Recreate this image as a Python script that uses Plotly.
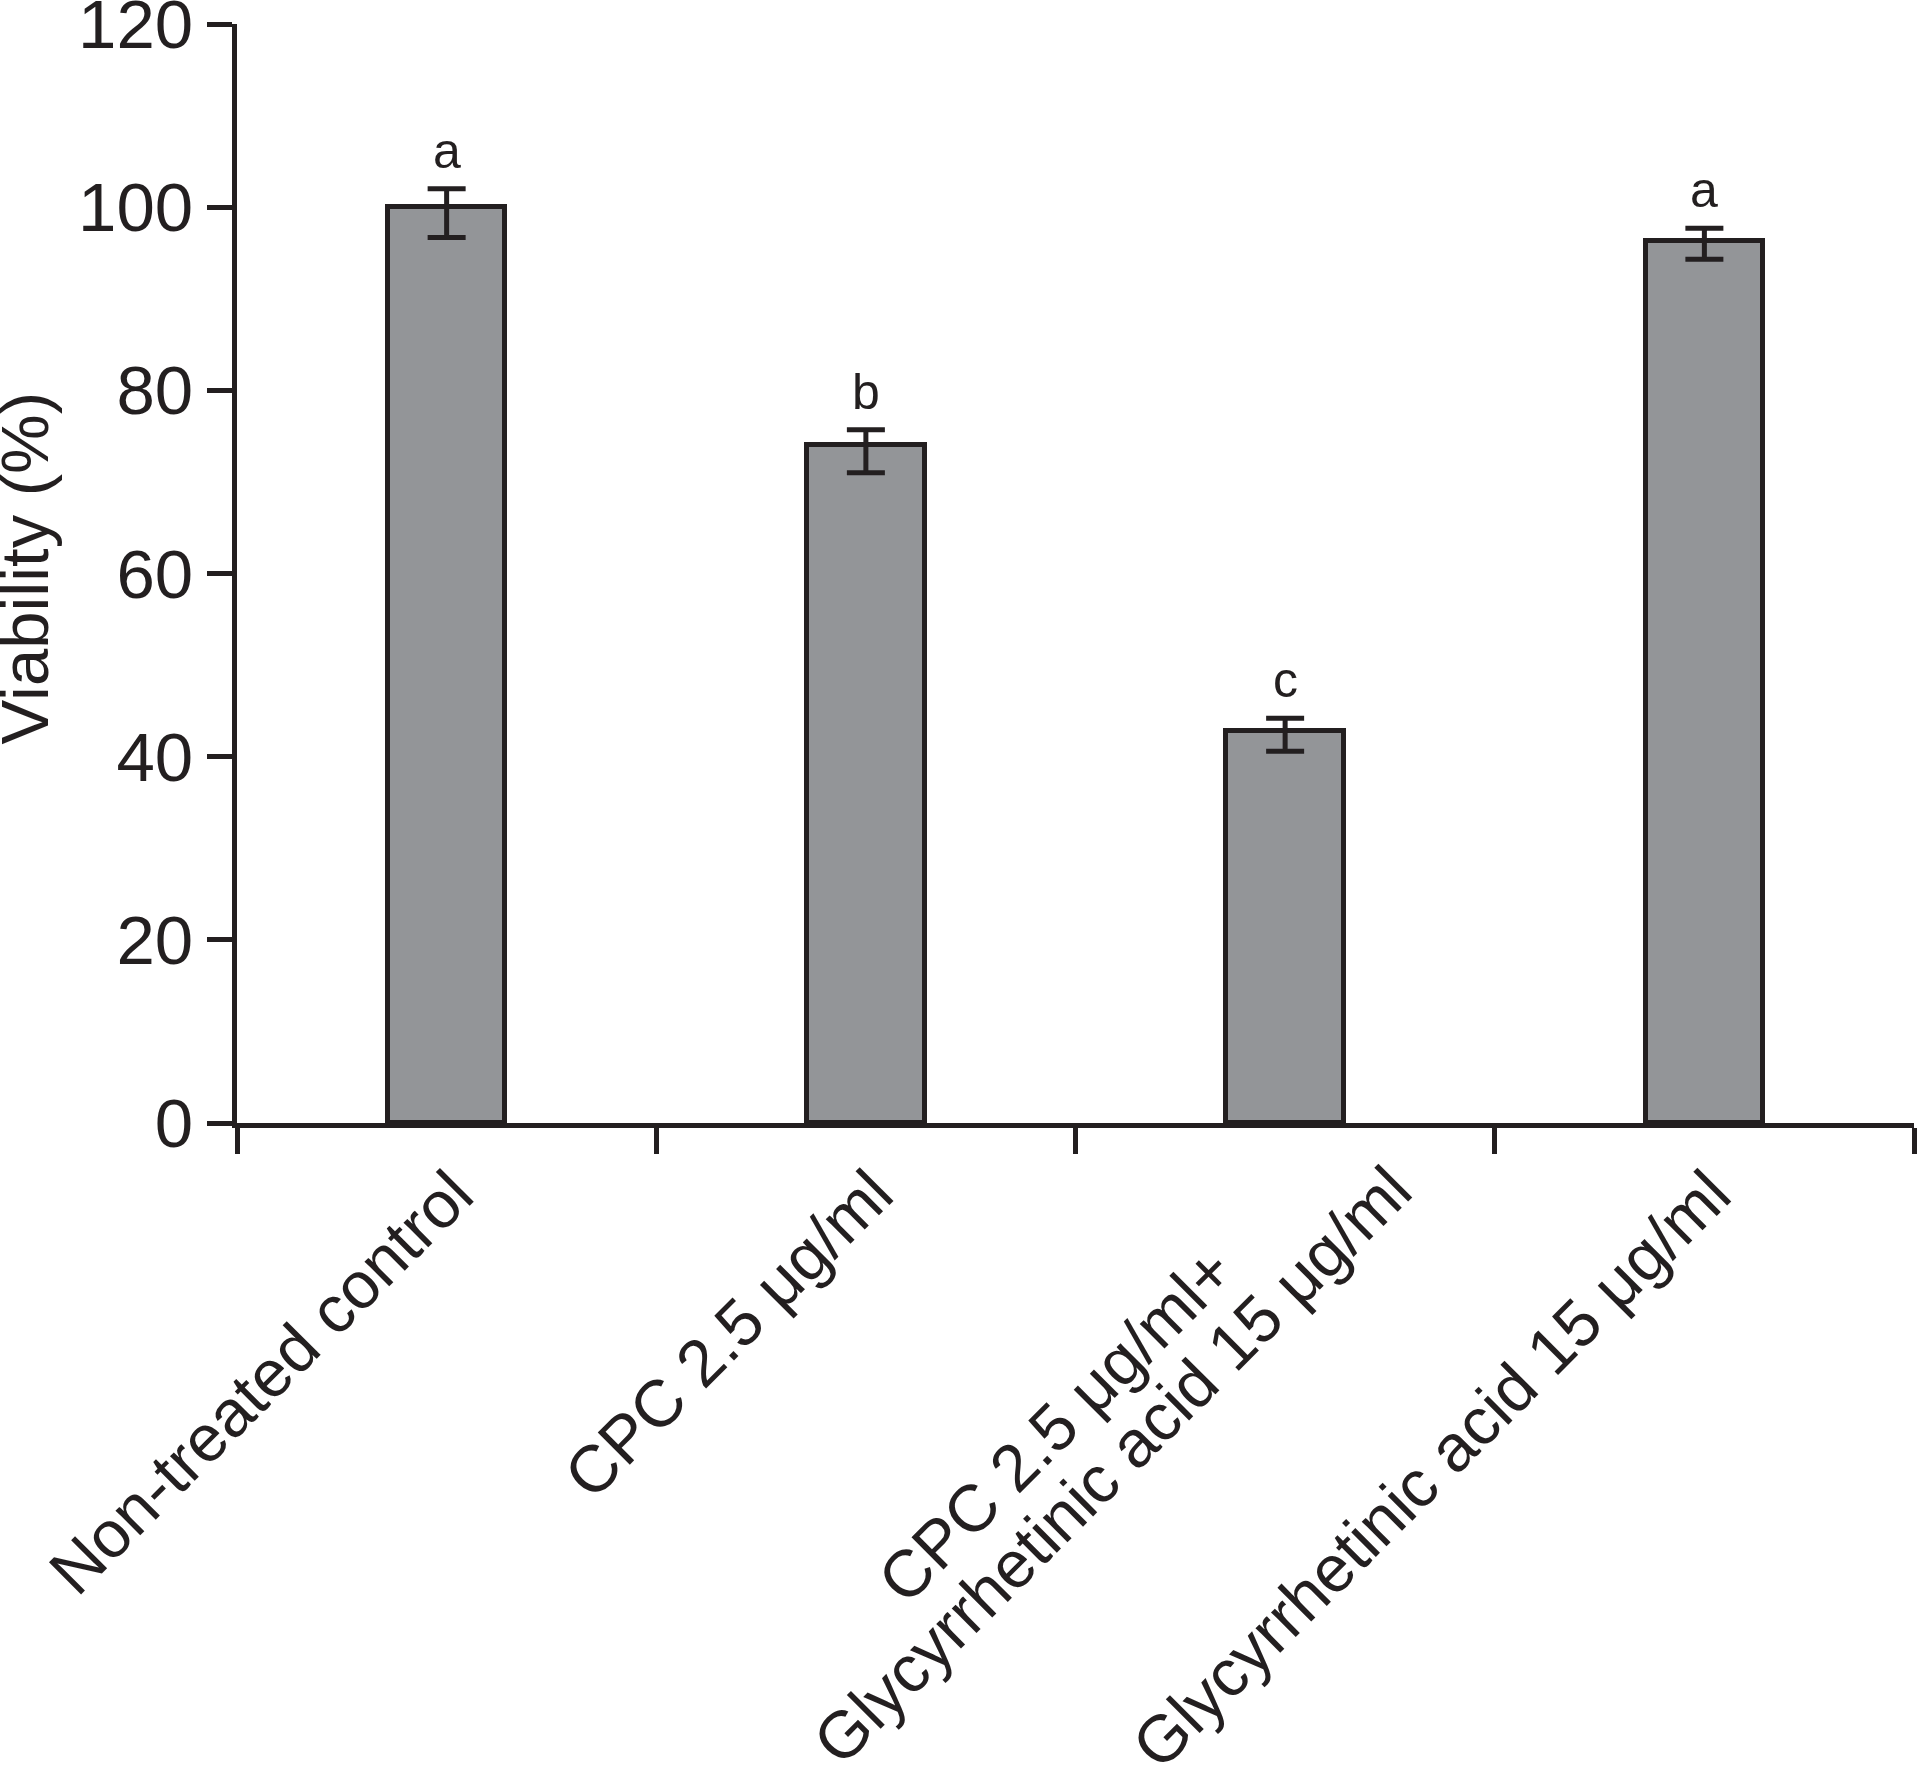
import plotly.graph_objects as go

categories = ["Non-treated control", "CPC 2.5 μg/ml",
              "CPC 2.5 μg/ml+ Glycyrrhetinic acid 15 μg/ml",
              "Glycyrrhetinic acid 15 μg/ml"]
tick_labels = ["Non-treated control", "CPC 2.5 μg/ml",
               "CPC 2.5 μg/ml+<br>Glycyrrhetinic acid 15 μg/ml",
               "Glycyrrhetinic acid 15 μg/ml"]
viability = [100.0, 74.0, 42.8, 96.3]
err_plus = [2.0, 1.7, 1.4, 1.4]
err_minus = [3.3, 3.0, 2.2, 2.0]
sig_letters = ["a", "b", "c", "a"]
y_ticks = [0, 20, 40, 60, 80, 100, 120]

INK = "#231f20"
FONT = "Liberation Sans, Arial, Helvetica, sans-serif"
LABEL_SIZE = 66

fig = go.Figure()
fig.add_trace(go.Bar(
    x=categories, y=viability, width=0.28,
    marker=dict(color="#939598", line=dict(color=INK, width=5)),
    error_y=dict(type="data", symmetric=False, array=err_plus, arrayminus=err_minus,
                 color=INK, thickness=5, width=19),
    showlegend=False,
))

# significance letters
for c, v, e, t in zip(categories, viability, err_plus, sig_letters):
    fig.add_annotation(x=c, y=v + e, xref="x", yref="y", text=t, showarrow=False,
                       yanchor="bottom", yshift=8,
                       font=dict(family=FONT, size=50, color=INK))

# rotated category labels (multi-line labels are centred, tightly spaced)
for c, lab in zip(categories, tick_labels):
    lines = lab.split("<br>")
    if len(lines) == 1:
        shifts = [(43, -30)]
    else:
        shifts = [(-35, -107), (143, -26)]
    for line, (xs, ys) in zip(lines, shifts):
        fig.add_annotation(x=c, y=0, xref="x", yref="y", text=line, showarrow=False,
                           textangle=-45, xanchor="right", yanchor="top",
                           xshift=xs, yshift=ys,
                           font=dict(family=FONT, size=LABEL_SIZE, color=INK))

# y-axis title
fig.add_annotation(x=-0.127, y=0.5046, xref="paper", yref="paper", text="Viability (%)",
                   showarrow=False, textangle=-90, xanchor="center", yanchor="middle",
                   font=dict(family=FONT, size=67, color=INK))

fig.update_layout(
    width=1917, height=1772,
    margin=dict(l=237, r=3, t=24, b=649, autoexpand=False),
    paper_bgcolor="white", plot_bgcolor="white",
    font=dict(family=FONT, color=INK),
    bargap=0,
)
fig.update_xaxes(type="category", range=[-0.5, 3.5], showline=True, linecolor=INK, linewidth=5,
                 ticks="outside", tickson="boundaries", ticklen=26, tickwidth=5, tickcolor=INK,
                 showticklabels=False, showgrid=False, zeroline=False, automargin=False)
fig.update_yaxes(range=[0, 120], tickvals=y_ticks, showline=True, linecolor=INK, linewidth=5,
                 ticks="outside", ticklen=25, tickwidth=5, tickcolor=INK,
                 tickfont=dict(family=FONT, size=69, color=INK), ticklabeloverflow="allow",
                 showgrid=False, zeroline=False, automargin=False)

fig.write_html("out.html", config={"displayModeBar": False},
               post_script="document.body.style.margin='0';")
